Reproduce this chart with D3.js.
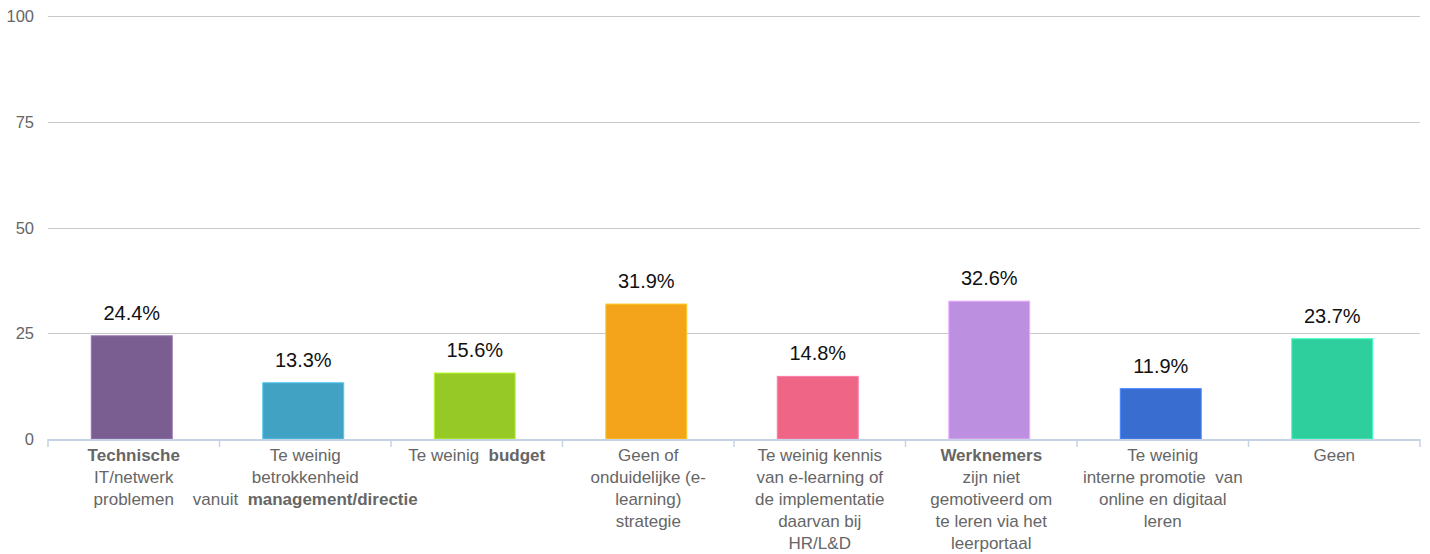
<!DOCTYPE html>
<html>
<head>
<meta charset="utf-8">
<script src="https://cdn.jsdelivr.net/npm/d3@7"></script>
<style>
  body { margin: 0; background: #fff; }
  svg { display: block; font-family: "Liberation Sans", Arial, sans-serif; }
</style>
</head>
<body>
<svg id="chart"></svg>
<script>
// labels: "|" splits lines, **x** marks bold text
const categories = [
    "**Technische**|IT/netwerk|problemen",
    "Te weinig|betrokkenheid|vanuit  **management/directie**",
    "Te weinig  **budget**",
    "Geen of|onduidelijke (e-|learning)|strategie",
    "Te weinig kennis|van e-learning of|de implementatie|daarvan bij|HR/L&D",
    "**Werknemers**|zijn niet|gemotiveerd om|te leren via het|leerportaal",
    "Te weinig|interne promotie  van|online en digitaal|leren",
    "Geen"
];
const values = [24.4, 13.3, 15.6, 31.9, 14.8, 32.6, 11.9, 23.7];
const colors = ["#7b5e91", "#41a2c3", "#96c925", "#f3a41b", "#ef6586", "#bd8fe0", "#3a6dd0", "#2ecf9c"];
const yTicks = [0, 25, 50, 75, 100];

const width = 1430, height = 554;
const margin = { top: 16, right: 10, bottom: 115, left: 48 };

const svg = d3.select("#chart")
    .attr("width", width)
    .attr("height", height);

const x = d3.scaleBand()
    .domain(categories)
    .range([margin.left, width - margin.right])
    .paddingInner(0.528)
    .paddingOuter(0.264);

const y = d3.scaleLinear()
    .domain([0, 100])
    .range([height - margin.bottom, margin.top]);

// gridlines
svg.append("g")
    .selectAll("line")
    .data(yTicks.filter(d => d > 0))
    .enter().append("line")
    .attr("x1", margin.left)
    .attr("x2", width - margin.right)
    .attr("y1", d => Math.round(y(d)) + 0.5)
    .attr("y2", d => Math.round(y(d)) + 0.5)
    .attr("stroke", "#c8c8c8")
    .attr("stroke-width", 1.2);

// y labels
svg.append("g")
    .selectAll("text")
    .data(yTicks)
    .enter().append("text")
    .attr("x", 34)
    .attr("y", d => y(d) + 6)
    .attr("text-anchor", "end")
    .attr("font-size", "16.5px")
    .attr("fill", "#666")
    .text(d => d);

// bars
svg.append("g")
    .selectAll("rect")
    .data(values)
    .enter().append("rect")
    .attr("x", (d, i) => x(categories[i]) - 2)
    .attr("y", d => y(d))
    .attr("width", x.bandwidth())
    .attr("height", d => y(0) - y(d))
    .attr("fill", (d, i) => colors[i])
    .attr("stroke", (d, i) => d3.color(colors[i]).brighter(0.6))
    .attr("stroke-width", 1);

// value labels
svg.append("g")
    .selectAll("text")
    .data(values)
    .enter().append("text")
    .attr("x", (d, i) => x(categories[i]) + x.bandwidth() / 2 - 2)
    .attr("y", d => y(d) - 16)
    .attr("text-anchor", "middle")
    .attr("font-size", "20px")
    .attr("fill", "#111")
    .text(d => d.toFixed(1) + "%");

// x axis
const xAxis = svg.append("g");
xAxis.append("line")
    .attr("x1", margin.left)
    .attr("x2", width - margin.right)
    .attr("y1", y(0) + 1)
    .attr("y2", y(0) + 1)
    .attr("stroke", "#c5d2e4")
    .attr("stroke-width", 2);

const step = x.step();
const bounds = d3.range(categories.length + 1).map(i => margin.left + i * step);
xAxis.selectAll(".tick")
    .data(bounds)
    .enter().append("line")
    .attr("x1", d => d)
    .attr("x2", d => d)
    .attr("y1", y(0))
    .attr("y2", y(0) + 8)
    .attr("stroke", "#c5d2e4")
    .attr("stroke-width", 1.5);

// category labels
categories.forEach((c, i) => {
    const cx = margin.left + (i + 0.5) * step;
    const t = svg.append("text")
        .attr("text-anchor", "middle")
        .attr("font-size", "17px")
        .attr("fill", "#666")
        .attr("xml:space", "preserve");
    c.split("|").forEach((line, j) => {
        const tl = t.append("tspan")
            .attr("x", cx)
            .attr("y", y(0) + 22 + j * 22);
        line.split("**").forEach((part, k) => {
            if (!part) return;
            tl.append("tspan")
                .attr("font-weight", k % 2 ? "bold" : null)
                .text(part);
        });
    });
});
</script>
</body>
</html>
